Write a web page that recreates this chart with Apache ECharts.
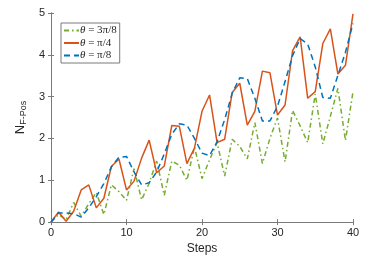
<!DOCTYPE html>
<html>
<head>
<meta charset="utf-8">
<script src="https://cdn.jsdelivr.net/npm/echarts@6/dist/echarts.min.js"></script>
<style>html,body{margin:0;padding:0;background:#fff}#c{width:390px;height:260px}</style>
</head>
<body>
<div id="c"></div>
<script>
var steps = [0,1,2,3,4,5,6,7,8,9,10,11,12,13,14,15,16,17,18,19,20,21,22,23,24,25,26,27,28,29,30,31,32,33,34,35,36,37,38,39,40];
var theta3pi8 = [0,0.18,0.06,0.47,0.14,0.44,0.71,0.18,0.89,0.73,0.52,1.28,0.53,0.93,1.46,0.64,1.46,1.36,1.00,1.80,1.04,1.49,1.90,1.10,1.98,1.81,1.51,2.38,1.40,2.00,2.49,1.44,2.67,2.30,1.90,3.06,1.87,2.53,3.20,1.95,3.12];
var thetaPi4 = [0,0.24,0.02,0.26,0.77,0.89,0.34,0.57,1.33,1.51,0.77,0.98,1.53,1.96,1.18,1.34,2.31,2.29,1.40,1.77,2.65,3.04,1.90,1.98,3.10,3.32,2.32,2.65,3.61,3.57,2.56,2.80,4.10,4.43,2.96,3.12,4.27,4.62,3.54,3.75,4.98];
var thetaPi8 = [0,0.22,0.22,0.20,0.12,0.34,0.61,0.92,1.32,1.55,1.57,1.20,0.89,0.94,1.20,1.63,2.10,2.35,2.32,2.00,1.65,1.59,1.92,2.45,3.08,3.45,3.43,2.96,2.42,2.42,2.77,3.36,3.98,4.39,4.26,3.71,2.98,2.96,3.51,4.06,4.75];
var seriesNames = ['3π/8', 'π/4', 'π/8'];
var xTicks = [0, 10, 20, 30, 40];
var yTicks = [0, 1, 2, 3, 4, 5];

function pairs(v) { return steps.map(function (s, i) { return [s, v[i]]; }); }

var axisCol = '#7a7a7a';
var txtCol = '#262626';
var sans = 'Liberation Sans';

var chart = echarts.init(document.getElementById('c'), null, {renderer: 'canvas'});
var baseX = {
  type: 'value', min: xTicks[0], max: xTicks[xTicks.length - 1], interval: 10,
  splitLine: {show: false},
  axisLine: {show: true, lineStyle: {color: axisCol, width: 1}},
  axisTick: {show: true, inside: true, length: 3, lineStyle: {color: axisCol}}
};
var baseY = {
  type: 'value', min: yTicks[0], max: yTicks[yTicks.length - 1], interval: 1,
  splitLine: {show: false},
  axisLine: {show: true, lineStyle: {color: axisCol, width: 1}},
  axisTick: {show: true, inside: true, length: 3, lineStyle: {color: axisCol}}
};
chart.setOption({
  animation: false,
  backgroundColor: '#fff',
  grid: {left: 51, right: 37, top: 13, bottom: 34, containLabel: false},
  xAxis: [
    Object.assign({}, baseX, {
      position: 'bottom',
      name: 'Steps', nameLocation: 'middle', nameGap: 15,
      nameTextStyle: {fontFamily: sans, fontSize: 12, color: txtCol},
      axisLabel: {fontFamily: sans, fontSize: 11, color: txtCol, margin: 5}
    }),
    Object.assign({}, baseX, {position: 'top', axisLabel: {show: false}})
  ],
  yAxis: [
    Object.assign({}, baseY, {
      position: 'left',
      name: '{n|N}{s|F-Pos}', nameLocation: 'middle', nameGap: 19, nameRotate: 90,
      nameTextStyle: {
        fontFamily: sans, color: txtCol,
        rich: {
          n: {fontFamily: sans, fontSize: 13, color: txtCol, verticalAlign: 'top', lineHeight: 14},
          s: {fontFamily: sans, fontSize: 9, color: txtCol, verticalAlign: 'bottom', lineHeight: 10, padding: [8, 0, 0, 0]}
        }
      },
      axisLabel: {fontFamily: sans, fontSize: 11, color: txtCol, margin: 6}
    }),
    Object.assign({}, baseY, {position: 'right', axisLabel: {show: false}})
  ],
  legend: {
    left: 61, top: 23, orient: 'vertical',
    backgroundColor: '#fff', borderColor: '#7a7a7a', borderWidth: 1,
    padding: [2, 3, 2, 2], itemGap: 1.5, itemWidth: 15, itemHeight: 10,
    itemStyle: {opacity: 0},
    formatter: function (name) { return '{i|θ}{t| = ' + name + '}'; },
    textStyle: {
      padding: [0, 0, 0, -4],
      rich: {
        i: {fontFamily: 'Liberation Serif', fontStyle: 'italic', fontSize: 11, color: txtCol},
        t: {fontFamily: 'Liberation Serif', fontSize: 11, color: txtCol}
      }
    },
    data: seriesNames
  },
  series: [
    {name: seriesNames[0], type: 'line', data: pairs(theta3pi8), symbol: 'none',
      lineStyle: {color: '#77AC30', width: 1.5, type: [5, 3, 1.5, 3]}, itemStyle: {color: '#77AC30'}},
    {name: seriesNames[1], type: 'line', data: pairs(thetaPi4), symbol: 'none',
      lineStyle: {color: '#D95319', width: 1.5, type: 'solid'}, itemStyle: {color: '#D95319'}},
    {name: seriesNames[2], type: 'line', data: pairs(thetaPi8), symbol: 'none',
      lineStyle: {color: '#0072BD', width: 1.5, type: [6, 4]}, itemStyle: {color: '#0072BD'}}
  ]
});
</script>
</body>
</html>
